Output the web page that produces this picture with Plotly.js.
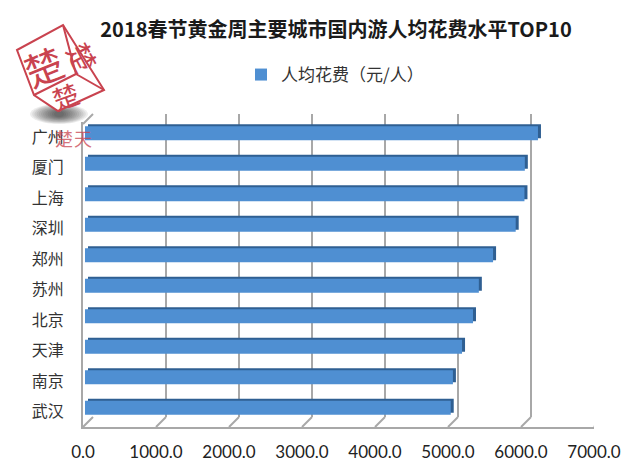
<!DOCTYPE html>
<html><head><meta charset="utf-8">
<script src="https://cdn.plot.ly/plotly-3.0.1.min.js"></script>
<style>html,body{margin:0;padding:0;background:#fff}</style></head>
<body><div id="chart" style="width:640px;height:474px"></div>
<script>
const cities = ["广州","厦门","上海","深圳","郑州","苏州","北京","天津","南京","武汉"];
const spending = [6205,6025,6020,5900,5590,5395,5315,5165,5040,5010];
const xTicks = [0,1000,2000,3000,4000,5000,6000,7000];
const xTickLabels = ["0.0","1000.0","2000.0","3000.0","4000.0","5000.0","6000.0","7000.0"];
const seriesName = "人均花费（元/人）";
const chartTitle = "<b>2018春节黄金周主要城市国内游人均花费水平TOP10</b>";

const W=640,H=474;
const dx=(a,b)=>[a/W,b/W], dy=(top,bot)=>[1-bot/H,1-top/H];
const px=x=>x/W, py=y=>1-y/H;
const cjk='"Noto Sans CJK SC","Noto Sans",sans-serif';
const grey='#a8a8a8', red='#c9434f';
const hidden={showgrid:false,zeroline:false,showline:false,showticklabels:false,ticks:''};
const catAxis=(top,bot)=>Object.assign({},hidden,{domain:dy(top,bot),type:'category',categoryorder:'array',categoryarray:cities,range:[9.5,-0.5],fixedrange:true});
const valAxis=(l,r)=>Object.assign({},hidden,{domain:dx(l,r),range:[0,7000],fixedrange:true});
const base={type:'bar',orientation:'h',x:spending,y:cities,width:0.46,hoverinfo:'skip'};

const traces=[
  Object.assign({},base,{xaxis:'x',yaxis:'y',marker:{color:'rgba(0,0,0,0)'},showlegend:false}),
  Object.assign({},base,{xaxis:'x2',yaxis:'y2',marker:{color:'#2f5f92'},showlegend:false}),
  Object.assign({},base,{xaxis:'x3',yaxis:'y3',name:seriesName,marker:{color:'#4f8fd2'},showlegend:true}),
  Object.assign({},base,{xaxis:'x4',yaxis:'y4',marker:{color:'rgba(0,0,0,0)'},showlegend:false})
];

const depth=10/73*1000;
const line=(x0,y0,x1,y1,color,w)=>({type:'line',xref:'paper',yref:'paper',x0:px(x0),y0:py(y0),x1:px(x1),y1:py(y1),line:{color:color||red,width:w||2}});
const shapes=[];
xTicks.forEach(k=>shapes.push({type:'line',xref:'x4',yref:'paper',x0:k,x1:k+depth,y0:py(427),y1:py(417),layer:'below',line:{color:grey,width:2}}));
shapes.push(Object.assign(line(83,124,93,114,grey,2),{layer:'below'}));
for(let i=0;i<12;i++){
  const t=i/11, cx=59, cy=114, rx=29-24*t, ry=10-7*t;
  shapes.push({type:'circle',xref:'paper',yref:'paper',x0:px(cx-rx),x1:px(cx+rx),y0:py(cy-ry),y1:py(cy+ry),fillcolor:'rgba(30,30,30,0.08)',line:{width:0},layer:'below'});
}
const A=[17,50],B=[63,25],C=[104,90],D=[58,111],E=[34,95],F=[76,74];
shapes.push({type:'path',xref:'paper',yref:'paper',path:'M'+[A,B,C,D,E].map(p=>px(p[0])+','+py(p[1])).join(' L')+' Z',fillcolor:'#ffffff',line:{color:red,width:2},layer:'below'});
[[F,B],[F,E],[F,C]].forEach(s=>shapes.push(Object.assign(line(s[0][0],s[0][1],s[1][0],s[1][1]),{layer:'below'})));

const note=(text,x,y,size,angle,opacity)=>({text,xref:'paper',yref:'paper',x:px(x),y:py(y),xanchor:'center',yanchor:'middle',showarrow:false,textangle:angle,opacity:opacity||1,font:{family:cjk,size,color:red}});

const layout={
  width:W,height:H,margin:{l:0,r:0,t:0,b:0},paper_bgcolor:'#fff',plot_bgcolor:'rgba(0,0,0,0)',
  font:{family:cjk,color:'#333'},barmode:'overlay',
  title:{text:chartTitle,x:336/W,xanchor:'center',y:py(30),yanchor:'middle',font:{family:cjk,size:20,color:'#1a1a1a'}},
  showlegend:true,
  legend:{x:px(241),y:py(75),xanchor:'left',yanchor:'middle',bgcolor:'rgba(0,0,0,0)',font:{family:cjk,size:17,color:'#333'},itemclick:false,itemdoubleclick:false},
  xaxis:Object.assign(valAxis(93,604),{showgrid:true,gridcolor:grey,gridwidth:2,tickvals:xTicks,showticklabels:false}),
  yaxis:catAxis(114,417),
  xaxis2:Object.assign(valAxis(88,599),{anchor:'y2'}),
  yaxis2:Object.assign(catAxis(116,421),{anchor:'x2'}),
  xaxis3:Object.assign(valAxis(85,596),{anchor:'y3'}),
  yaxis3:Object.assign(catAxis(118,423),{anchor:'x3'}),
  xaxis4:Object.assign(valAxis(83,594),{anchor:'y4',showline:true,linecolor:grey,linewidth:2,tickmode:'array',tickvals:xTicks,ticktext:xTickLabels,showticklabels:true,ticks:'outside',ticklen:9,tickcolor:'rgba(0,0,0,0)',tickfont:{family:'Lato, "Open Sans", sans-serif',size:17,color:'#222'}}),
  yaxis4:Object.assign(catAxis(122,427),{anchor:'x4',showline:true,linecolor:grey,linewidth:2,showticklabels:true,ticks:'outside',ticklen:14,tickcolor:'rgba(0,0,0,0)',tickfont:{family:cjk,size:16,color:'#333'}}),
  shapes,
  annotations:[
    note('楚',43,65,38,-22),
    note('楚',83,57,28,62),
    note('楚',65,95,26,-20),
    note('楚',64,138,18,0,.75),
    note('天',83,138,18,0,.75)
  ]
};
Plotly.newPlot('chart',traces,layout,{staticPlot:true,displayModeBar:false});
</script></body></html>
